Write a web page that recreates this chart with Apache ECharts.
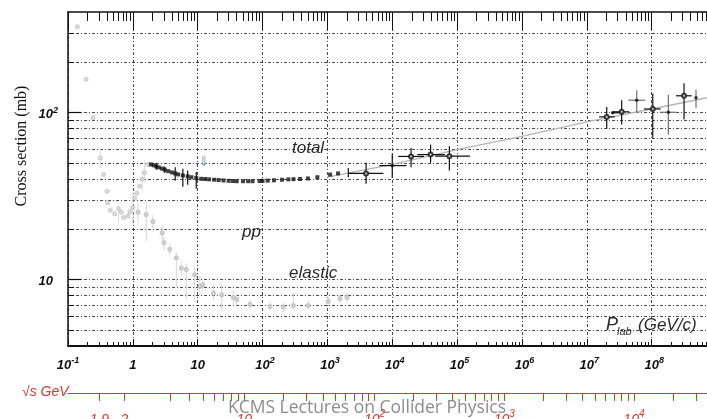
<!DOCTYPE html>
<html><head><meta charset="utf-8">
<script src="https://cdn.jsdelivr.net/npm/echarts@6/dist/echarts.min.js"></script>
<style>html,body{margin:0;padding:0;background:#fff}#c{width:707px;height:419px}</style>
</head><body><div id="c"></div>
<script>
// ---------------- data (P_lab in GeV/c, cross section in mb) ----------------
// total pp cross section, accelerator data (black)
const totP = [1.9, 2.1, 2.3, 2.5, 2.8, 3.1, 3.5, 4.0, 4.5, 5.0, 5.9, 7, 8, 9.5, 11.3, 13, 15, 18, 21, 25, 30, 35, 40, 50, 60, 70, 90, 100, 120, 150, 200, 250, 300, 378, 500, 700, 1100, 1460];
const totS = [48.9, 48.3, 47.6, 47.0, 46.2, 45.5, 44.6, 43.8, 43.2, 42.6, 42.0, 41.5, 41.0, 40.5, 40.1, 40.0, 39.8, 39.6, 39.4, 39.2, 39.0, 38.9, 38.8, 38.8, 38.8, 38.8, 38.9, 39.0, 39.1, 39.3, 39.6, 39.8, 39.9, 40.0, 40.3, 41.0, 42.5, 43.2];
// a few total points with visible error bars at low momentum
const totErrP  = [2.3, 3.1, 4.5, 5.9, 7, 9.5, 2100];
const totErrS  = [47.6, 45.5, 43.2, 42.0, 41.5, 40.5, 43.6];
const totErrLo = [45.5, 43.5, 39.0, 36.0, 37.0, 35.0, 41.0];
const totErrHi = [50.0, 47.5, 47.0, 46.0, 45.0, 44.0, 46.5];
// total cross section, collider / cosmic-ray points with error bars
const hiP    = [3950, 10000, 19500, 39000, 76000, 2.03e7, 2.51e7, 3.45e7, 5.89e7, 1.04e8, 1.81e8, 3.16e8, 4.83e8];
const hiS    = [43.2, 48.1, 54.6, 56.0, 54.8, 94.2, 99.6, 101, 118.5, 105, 100.4, 126, 122.5];
const hiPLo  = [2100, 6300, 12300, 24300, 45700, 1.55e7, 2.4e7, 2.51e7, 4.37e7, 7.6e7, 1.35e8, 2.37e8, 4.83e8];
const hiPHi  = [7300, 16600, 30900, 65000, 158000, 2.69e7, 3.2e7, 4.52e7, 7.94e7, 1.38e8, 2.43e8, 4.14e8, 4.83e8];
const hiSLo  = [37.4, 40.6, 47.1, 50.0, 44.9, 79.9, 99.6, 84.7, 100.4, 70.6, 73.8, 90.8, 106.7];
const hiSHi  = [50.0, 56.6, 61.4, 64.3, 62.9, 108, 99.6, 118.5, 136, 130, 128, 150, 137];
const hiOpen = [1, 0, 1, 1, 1, 1, 0, 1, 0, 1, 0, 1, 0];
const hiGrey = [0, 0, 0, 0, 0, 0, 0, 0, 1, 0, 1, 0, 1];
// fit curve (grey)
const fitP = [1e3, 1e4, 1e5, 1e6, 1e7, 1e8, 1e9];
const fitS = [41, 49, 60, 72, 88, 105, 126];
// low-momentum total (grey)
const lowP  = [0.139, 0.19, 0.243, 0.315, 0.355, 0.40, 0.41, 0.45, 0.525, 0.6, 0.664, 0.72, 0.84, 0.9, 1.0, 1.07, 1.15, 1.27, 1.4, 1.52, 1.71];
const lowS  = [326, 158, 93, 53.5, 42.5, 33.8, 28.8, 26.0, 24.8, 26.5, 25.3, 23.5, 24.0, 25.5, 27.0, 30.8, 33.0, 36.2, 40.0, 43.6, 48.9];
const lowLo = [326, 158, 93, 46.6, 42.5, 33.8, 28.8, 26.0, 24.8, 22.0, 25.3, 23.5, 24.0, 25.5, 22.0, 30.8, 33.0, 36.2, 34.0, 38.0, 48.9];
const lowHi = [326, 158, 93, 61.5, 42.5, 33.8, 28.8, 26.0, 24.8, 28.0, 25.3, 23.5, 24.0, 25.5, 33.0, 30.8, 33.0, 36.2, 46.0, 52.0, 48.9];
// elastic (grey)
const elP  = [1.2, 1.61, 2.04, 2.84, 3.02, 3.7, 4.68, 5.59, 6.67, 8.98, 10.8, 12, 17.5, 23.5, 35.5, 40, 64, 130, 209, 298, 508, 1030, 1560, 2000];
const elS  = [25.3, 24.5, 22.3, 19.0, 16.6, 15.2, 13.5, 11.7, 11.5, 10.7, 9.1, 9.3, 8.3, 8.1, 7.8, 7.6, 7.1, 6.9, 6.85, 7.0, 7.0, 7.4, 7.7, 7.8];
const elLo = [22, 17, 20, 17, 15, 14, 9, 10.5, 7.6, 7.3, 8, 8.5, 7.5, 6.5, 7.0, 7.0, 6.6, 6.5, 6.4, 6.6, 6.6, 6.9, 7.2, 7.3];
const elHi = [28.5, 29, 24.5, 21, 18, 16.5, 14.5, 13, 12.5, 12, 10.5, 10.2, 9.2, 9.5, 8.6, 8.2, 7.6, 7.4, 7.3, 8.3, 7.5, 7.9, 8.2, 8.3];
// axes
const xDecades = [-1, 0, 1, 2, 3, 4, 5, 6, 7, 8, 9];
const yGridVals = [5, 6, 7, 8, 9, 10, 20, 30, 40, 50, 60, 70, 80, 90, 100, 200, 300];
const yLabelVals = [10, 100];
const sqrtTicks = [1.9, 2, 3, 4, 5, 6, 7, 8, 9, 10, 20, 30, 40, 50, 60, 70, 80, 90, 100, 200, 300, 400, 500, 600, 700, 800, 900, 1000, 2000, 3000, 4000, 5000, 6000, 7000, 8000, 9000, 10000, 20000, 30000, 40000];
const sqrtLabels = [1.9, 2, 10, 100, 1000, 10000];
const sqrtLabelText = ['1.9', '2', '10', '10|2', '10|3', '10|4'];

// ---------------- helpers ----------------
const L = Math.log10;
const M = 0.938; // proton mass
function pLab(rs) { const s = rs * rs; const E = (s - 2 * M * M) / (2 * M); return Math.sqrt(E * E - M * M); }
const X_MIN = -1, X_MAX = 9, Y_MIN = L(4), Y_MAX = L(400);
const minorX = [];
for (let e = -1; e <= 8; e++) for (let k = 2; k <= 9; k++) minorX.push(e + L(k));
const sqrtTickX = sqrtTicks.map(r => L(pLab(r)));
const sqrtLabelX = sqrtLabels.map(r => L(pLab(r)));

const FF = '"Liberation Sans", Arial, sans-serif';
const bTok = { fontSize: 13, fontWeight: 'bold', fontStyle: 'italic', fontFamily: FF, color: '#111', verticalAlign: 'top', lineHeight: 13, padding: [3, 0, 0, 0] };
const sTok = { fontSize: 9, fontWeight: 'bold', fontStyle: 'italic', fontFamily: FF, color: '#111', verticalAlign: 'top', lineHeight: 9 };
const spTok = Object.assign({}, sTok, { color: 'rgba(0,0,0,0)' });
const RED = '#e0352b';
const rTok = { fontSize: 14, fontStyle: 'italic', fontFamily: FF, color: RED, verticalAlign: 'top', lineHeight: 14, padding: [4, 0, 0, 0] };
const rsTok = { fontSize: 10, fontStyle: 'italic', fontFamily: FF, color: RED, verticalAlign: 'top', lineHeight: 10 };

function errRows(px, py, pxl, pxh, pyl, pyh, flag) {
  return px.map((p, i) => [L(p), L(py[i]), L(pxl ? pxl[i] : p), L(pxh ? pxh[i] : p), L(pyl[i]), L(pyh[i]), flag ? flag[i] : 0]);
}
function errSeries(rows, color, altColor, width) {
  return {
    type: 'custom', xAxisIndex: 0, yAxisIndex: 0, data: rows, silent: true, z: 3,
    renderItem: function (params, api) {
      const x = api.value(0), y = api.value(1), xl = api.value(2), xh = api.value(3), yl = api.value(4), yh = api.value(5);
      const col = api.value(6) ? altColor : color;
      const ch = [];
      if (xh - xl > 1e-6) { const a = api.coord([xl, y]), b = api.coord([xh, y]); ch.push({ type: 'line', shape: { x1: a[0], y1: a[1], x2: b[0], y2: b[1] }, style: { stroke: col, lineWidth: width } }); }
      if (yh - yl > 1e-6) { const a = api.coord([x, yl]), b = api.coord([x, yh]); ch.push({ type: 'line', shape: { x1: a[0], y1: a[1], x2: b[0], y2: b[1] }, style: { stroke: col, lineWidth: width } }); }
      return { type: 'group', children: ch };
    }
  };
}
const pts = (px, py) => px.map((p, i) => [L(p), L(py[i])]);

const gridLine = { show: true, lineStyle: { color: '#1a1a1a', width: 0.8, type: [3, 2, 1, 2] } };
const baseX = { type: 'value', min: X_MIN, max: X_MAX, gridIndex: 0 };
const baseY = { type: 'value', min: Y_MIN, max: Y_MAX, gridIndex: 0 };

const chart = echarts.init(document.getElementById('c'), null, { renderer: 'canvas' });
chart.setOption({
  animation: false,
  backgroundColor: '#fff',
  grid: { left: 68, top: 12, right: -9.5, bottom: 73, containLabel: false, outerBoundsMode: 'none' },
  xAxis: [
    Object.assign({}, baseX, {
      position: 'bottom', interval: 1,
      axisLine: { show: true, onZero: false, lineStyle: { color: '#111', width: 2 } },
      axisTick: { show: true, inside: true, length: 7, lineStyle: { color: '#111', width: 1 } },
      splitLine: gridLine,
      axisLabel: {
        show: true, margin: 10,
        formatter: function (v) {
          const e = Math.round(v);
          if (e === 0) return '{b|1}';
          if (e === 1) return '{b|10}';
          if (e === 9) return '';
          if (e === -1) return '{b|10}{s|-1}';
          return '{sp|' + e + '}{b|10}{s|' + e + '}';
        },
        rich: { b: bTok, s: sTok, sp: spTok }
      }
    }),
    Object.assign({}, baseX, {
      position: 'bottom', axisLine: { show: false, onZero: false },
      axisTick: { show: true, inside: true, length: 4, customValues: minorX, lineStyle: { color: '#111', width: 1 } },
      axisLabel: { show: false }, splitLine: { show: false }
    }),
    Object.assign({}, baseX, {
      position: 'top', axisLine: { show: true, onZero: false, lineStyle: { color: '#111', width: 1.5 } },
      axisTick: { show: true, inside: true, length: 9, customValues: minorX, lineStyle: { color: '#111', width: 1 } },
      axisLabel: { show: false }, splitLine: { show: false }
    }),
    Object.assign({}, baseX, {
      position: 'top', interval: 1, axisLine: { show: false, onZero: false },
      axisTick: { show: true, inside: true, length: 18, lineStyle: { color: '#111', width: 1 } },
      axisLabel: { show: false }, splitLine: { show: false }
    }),
    Object.assign({}, baseX, {
      position: 'bottom', offset: 47,
      axisLine: { show: true, onZero: false, lineStyle: { color: RED, width: 1 } },
      axisTick: { show: true, inside: false, length: 8, customValues: sqrtTickX, lineStyle: { color: RED, width: 1 } },
      splitLine: { show: false },
      axisLabel: {
        show: true, margin: 16, customValues: sqrtLabelX,
        formatter: function (v) {
          let best = 0, bd = 1e9;
          sqrtLabelX.forEach((x, i) => { const d = Math.abs(x - v); if (d < bd) { bd = d; best = i; } });
          const t = sqrtLabelText[best].split('|');
          return t.length > 1 ? '{r|' + t[0] + '}{rs|' + t[1] + '}' : '{r|' + t[0] + '}';
        },
        rich: { r: rTok, rs: rsTok }
      }
    })
  ],
  yAxis: [
    Object.assign({}, baseY, {
      position: 'left',
      axisLine: { show: true, onZero: false, lineStyle: { color: '#111', width: 1.5 } },
      axisTick: { show: true, inside: true, length: 6, customValues: yGridVals.map(L), lineStyle: { color: '#111', width: 1 } },
      splitLine: gridLine,
      axisLabel: {
        show: true, margin: 10, customValues: yLabelVals.map(L),
        formatter: function (v) { return Math.round(v) === 2 ? '{b|10}{s|2}' : '{b|10}{sp|2}'; },
        rich: { b: Object.assign({}, bTok, { padding: [2, 0, 0, 0] }), s: sTok, sp: spTok }
      }
    }),
    Object.assign({}, baseY, {
      position: 'left', axisLine: { show: false, onZero: false },
      axisTick: { show: true, inside: true, length: 13, customValues: yLabelVals.map(L), lineStyle: { color: '#111', width: 1.2 } },
      axisLabel: { show: false }, splitLine: { show: false }
    })
  ],
  series: [
    { type: 'line', data: pts(fitP, fitS), symbol: 'none', lineStyle: { color: '#b4b4b4', width: 1.3 }, z: 2, silent: true },
    errSeries(errRows(lowP, lowS, null, null, lowLo, lowHi), '#dcdcdc', '#dcdcdc', 1),
    { type: 'scatter', data: pts(lowP, lowS), symbol: 'emptyCircle', symbolSize: 3, itemStyle: { color: '#c6c6c6', borderWidth: 0.8 }, z: 3, silent: true },
    errSeries(errRows(elP, elS, null, null, elLo, elHi), '#d6d6d6', '#d6d6d6', 1),
    { type: 'scatter', data: pts(elP, elS), symbol: 'emptyCircle', symbolSize: 3, itemStyle: { color: '#bababa', borderWidth: 0.8 }, z: 3, silent: true },
    errSeries(errRows(totErrP, totErrS, null, null, totErrLo, totErrHi), '#111', '#111', 1.2),
    { type: 'scatter', data: pts(totP, totS), symbol: 'rect', symbolSize: 4, itemStyle: { color: '#111' }, z: 4, silent: true },
    errSeries(errRows(hiP, hiS, hiPLo, hiPHi, hiSLo, hiSHi, hiGrey), '#111', '#6f6f6f', 1.2),
    {
      type: 'scatter', z: 5, silent: true,
      data: hiP.map((p, i) => ({ value: [L(p), L(hiS[i])], symbol: hiOpen[i] ? 'emptyCircle' : 'circle', symbolSize: hiOpen[i] ? 4 : 3.5, itemStyle: { color: '#111', borderWidth: 1 } }))
    }
  ],
  graphic: [
    { type: 'text', x: 22, y: 146, rotation: Math.PI / 2, z: 10,
      style: { text: 'Cross section (mb)', fontSize: 16, fontFamily: '"Liberation Serif", "Times New Roman", serif', fill: '#111', align: 'center', verticalAlign: 'middle', textAlign: 'center', textVerticalAlign: 'middle' } },
    { type: 'text', x: 292, y: 148, z: 10, style: { text: 'total', fontSize: 17, fontStyle: 'italic', fontFamily: FF, fill: '#2a2a2a', align: 'left', verticalAlign: 'middle', textAlign: 'left', textVerticalAlign: 'middle' } },
    { type: 'text', x: 242, y: 232, z: 10, style: { text: 'pp', fontSize: 17, fontStyle: 'italic', fontFamily: FF, fill: '#2a2a2a', align: 'left', verticalAlign: 'middle', textAlign: 'left', textVerticalAlign: 'middle' } },
    { type: 'text', x: 289, y: 273, z: 10, style: { text: 'elastic', fontSize: 17, fontStyle: 'italic', fontFamily: FF, fill: '#2a2a2a', align: 'left', verticalAlign: 'middle', textAlign: 'left', textVerticalAlign: 'middle' } },
    { type: 'text', x: 606, y: 325, z: 10, style: { text: 'P', fontSize: 18, fontStyle: 'italic', fontFamily: FF, fill: '#2a2a2a', align: 'left', verticalAlign: 'middle', textAlign: 'left', textVerticalAlign: 'middle' } },
    { type: 'text', x: 617, y: 332, z: 10, style: { text: 'lab', fontSize: 11, fontStyle: 'italic', fontFamily: FF, fill: '#2a2a2a', align: 'left', verticalAlign: 'middle', textAlign: 'left', textVerticalAlign: 'middle' } },
    { type: 'text', x: 638, y: 325, z: 10, style: { text: '(GeV/c)', fontSize: 17, fontStyle: 'italic', fontFamily: FF, fill: '#2a2a2a', align: 'left', verticalAlign: 'middle', textAlign: 'left', textVerticalAlign: 'middle' } },
    { type: 'text', x: 204, y: 162, z: 10, style: { text: '⇓', fontSize: 14, fontFamily: '"DejaVu Sans", sans-serif', fill: '#7d9cab', align: 'center', verticalAlign: 'middle', textAlign: 'center', textVerticalAlign: 'middle' } },
    { type: 'text', x: 22, y: 392, z: 10, style: { text: '√s GeV', fontSize: 14, fontStyle: 'italic', fontFamily: FF, fill: RED, align: 'left', verticalAlign: 'middle', textAlign: 'left', textVerticalAlign: 'middle' } },
    { type: 'text', x: 367, y: 408, z: 20, style: { text: 'KCMS Lectures on Collider Physics', fontSize: 17.5, fontFamily: '"Open Sans", "Noto Sans", sans-serif', fill: 'rgba(120,120,120,0.85)', align: 'center', verticalAlign: 'middle', textAlign: 'center', textVerticalAlign: 'middle' } }
  ]
});
</script></body></html>
